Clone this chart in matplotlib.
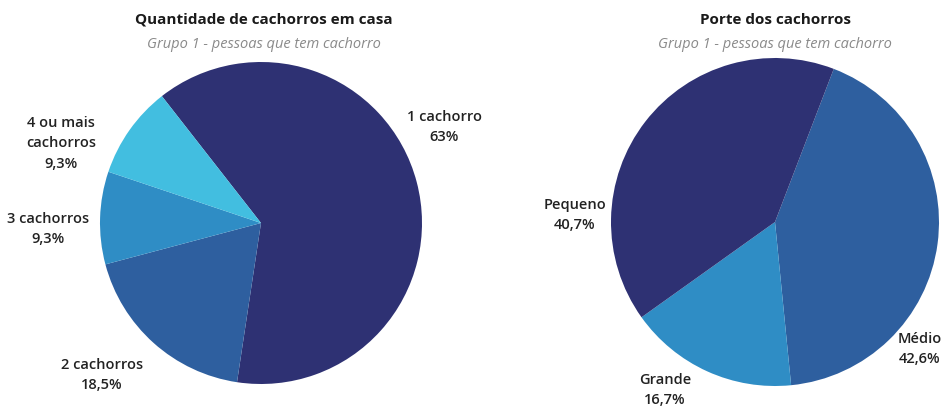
import matplotlib
matplotlib.use("Agg")
import matplotlib.pyplot as plt

# Quantidade de cachorros em casa
qtd_labels = ["1 cachorro", "2 cachorros", "3 cachorros", "4 ou mais\ncachorros"]
qtd_values = [63.0, 18.5, 9.3, 9.3]

# Porte dos cachorros
porte_labels = ["Médio", "Grande", "Pequeno"]
porte_values = [42.6, 16.7, 40.7]

subtitle = "Grupo 1 - pessoas que tem cachorro"

NAVY = "#2e3173"
BLUE = "#2e5f9f"
MID = "#2f8dc5"
LIGHT = "#42bee0"
TEXT = "#222222"

plt.rcParams["font.family"] = ["Open Sans", "DejaVu Sans"]

W, H = 952, 410
fig = plt.figure(figsize=(W / 100, H / 100), dpi=100)


def pie_axes(cx, cy, r):
    return fig.add_axes([(cx - r) / W, (H - cy - r) / H, 2 * r / W, 2 * r / H])


def fmt(v):
    return f"{v:g}".replace(".", ",") + "%"


def draw(ax, labels, values, colors, start, label_pos):
    ax.pie(values, colors=colors, startangle=start, counterclock=False,
           wedgeprops=dict(linewidth=0))
    ax.set_xlim(-1, 1)
    ax.set_ylim(-1, 1)
    ax.set_aspect("equal")
    ax.axis("off")
    for lab, v, (x, y) in zip(labels, values, label_pos):
        ax.text(x, y, f"{lab}\n{fmt(v)}", ha="center", va="center",
                fontsize=10.5, fontweight="semibold", color=TEXT,
                linespacing=1.55, clip_on=False)


ax1 = pie_axes(261, 224, 161)
draw(ax1, qtd_labels, qtd_values, [NAVY, BLUE, MID, LIGHT], 128,
     [(1.14, 0.60), (-0.99, -0.94), (-1.32, -0.03), (-1.24, 0.50)])

ax2 = pie_axes(775, 223, 164)
draw(ax2, porte_labels, porte_values, [BLUE, MID, NAVY], 69,
     [(0.88, -0.77), (-0.67, -1.02), (-1.22, 0.05)])

for cx, title in [(264, "Quantidade de cachorros em casa"), (775, "Porte dos cachorros")]:
    fig.text(cx / W, 1 - 20 / H, title, ha="center", va="center",
             fontsize=11, fontweight="bold", color="#1a1a1a")
    fig.text(cx / W, 1 - 44 / H, subtitle, ha="center", va="center",
             fontsize=10.5, style="italic", color="#8a8a8a")

fig.savefig("out.png", dpi=100, facecolor="white")
